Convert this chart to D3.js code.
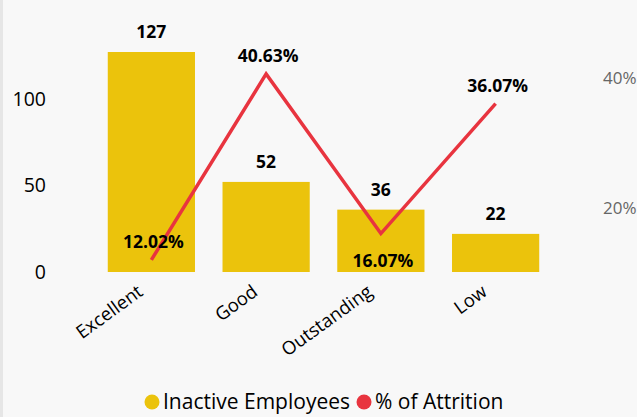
<!DOCTYPE html>
<html>
<head>
<meta charset="utf-8">
<script src="https://cdn.jsdelivr.net/npm/d3@7.9.0/dist/d3.min.js"></script>
<style>
  html, body { margin: 0; padding: 0; background: #f8f8f8; }
  body { width: 637px; height: 417px; overflow: hidden; }
  svg { display: block; font-family: "Open Sans", "Noto Sans", sans-serif; }
</style>
</head>
<body>
<svg id="chart" width="637" height="417"></svg>
<script>
const categories = ['Excellent', 'Good', 'Outstanding', 'Low'];
const inactive   = [127, 52, 36, 22];
const attrition  = [12.02, 40.63, 16.07, 36.07];
const leftTicks  = [0, 50, 100];
const rightTicks = [20, 40];

const yellow = '#ebc30c';
const red    = '#e8343f';
const font   = '"Open Sans", "Noto Sans", sans-serif';

const svg = d3.select('#chart');

// thin gray strip on the left edge
svg.append('rect').attr('x', 0).attr('y', 0).attr('width', 3).attr('height', 417).attr('fill', '#e6e6e6');

const x  = d3.scaleBand().domain(categories).range([94, 553]).paddingInner(0.24).paddingOuter(0.12);
const y  = d3.scaleLinear().domain([0, 127]).range([272, 52]);
const y2 = d3.scaleLinear().domain([0, 40]).range([338, 78]);

// left axis
const leftAxis = svg.append('g').attr('transform', 'translate(46,0)')
  .call(d3.axisLeft(y).tickValues(leftTicks).tickSize(0).tickPadding(0))
  .attr('font-family', font);
leftAxis.select('.domain').remove();
leftAxis.selectAll('text').attr('font-size', 19.5).attr('fill', '#000').attr('dy', '0.32em');

// right axis
const rightAxis = svg.append('g').attr('transform', 'translate(603,0)')
  .call(d3.axisRight(y2).tickValues(rightTicks).tickFormat(d => d + '%').tickSize(0).tickPadding(0))
  .attr('font-family', font);
rightAxis.select('.domain').remove();
rightAxis.selectAll('text').attr('font-size', 17).attr('fill', '#666').attr('dy', '0.32em');

// bars
svg.append('g').selectAll('rect')
  .data(categories)
  .enter().append('rect')
    .attr('x', d => x(d))
    .attr('y', (d, i) => y(inactive[i]))
    .attr('width', x.bandwidth())
    .attr('height', (d, i) => y(0) - y(inactive[i]))
    .attr('fill', yellow);

// bar labels
svg.append('g').selectAll('text')
  .data(categories)
  .enter().append('text')
    .attr('x', d => x(d) + x.bandwidth() / 2)
    .attr('y', (d, i) => y(inactive[i]) - 14)
    .attr('text-anchor', 'middle')
    .attr('font-size', 17.5).attr('font-weight', 'bold').attr('fill', '#000')
    .text((d, i) => inactive[i]);

// x axis labels
const xAxis = svg.append('g').attr('transform', 'translate(0,272)')
  .call(d3.axisBottom(x).tickSize(0).tickPadding(0))
  .attr('font-family', font);
xAxis.select('.domain').remove();
xAxis.selectAll('text')
  .attr('font-size', 18.5).attr('fill', '#000')
  .attr('text-anchor', 'end')
  .attr('y', 0)
  .attr('dy', '0.35em')
  .attr('transform', 'translate(-11,17) rotate(-36)');

// line
const cx = d => x(d) + x.bandwidth() / 2;
const line = d3.line().x(d => cx(d)).y((d, i) => y2(attrition[i]));
svg.append('path')
  .datum(categories)
  .attr('d', line)
  .attr('fill', 'none')
  .attr('stroke', red)
  .attr('stroke-width', 3.5)
  .attr('stroke-linejoin', 'miter');

// line labels: the third sits under its point
svg.append('g').selectAll('text')
  .data(categories)
  .enter().append('text')
    .attr('x', d => cx(d) + 2)
    .attr('y', (d, i) => y2(attrition[i]) + (i === 2 ? 33 : -12))
    .attr('text-anchor', 'middle')
    .attr('font-size', 17.5).attr('font-weight', 'bold').attr('fill', '#000')
    .text((d, i) => attrition[i].toFixed(2) + '%');

// legend, items chained left to right
const legend = svg.append('g').attr('transform', 'translate(0,402)');
const items = [
  { label: 'Inactive Employees', color: yellow },
  { label: '% of Attrition', color: red }
];
let lx = 152;
items.forEach(it => {
  legend.append('circle').attr('cx', lx).attr('cy', 0).attr('r', 7.5).attr('fill', it.color);
  const t = legend.append('text').attr('x', lx + 11).attr('y', 0).attr('dy', '0.35em')
    .attr('font-size', 21).attr('fill', '#000').text(it.label);
  lx += 11 + t.node().getComputedTextLength() + 14;
});
</script>
</body>
</html>
